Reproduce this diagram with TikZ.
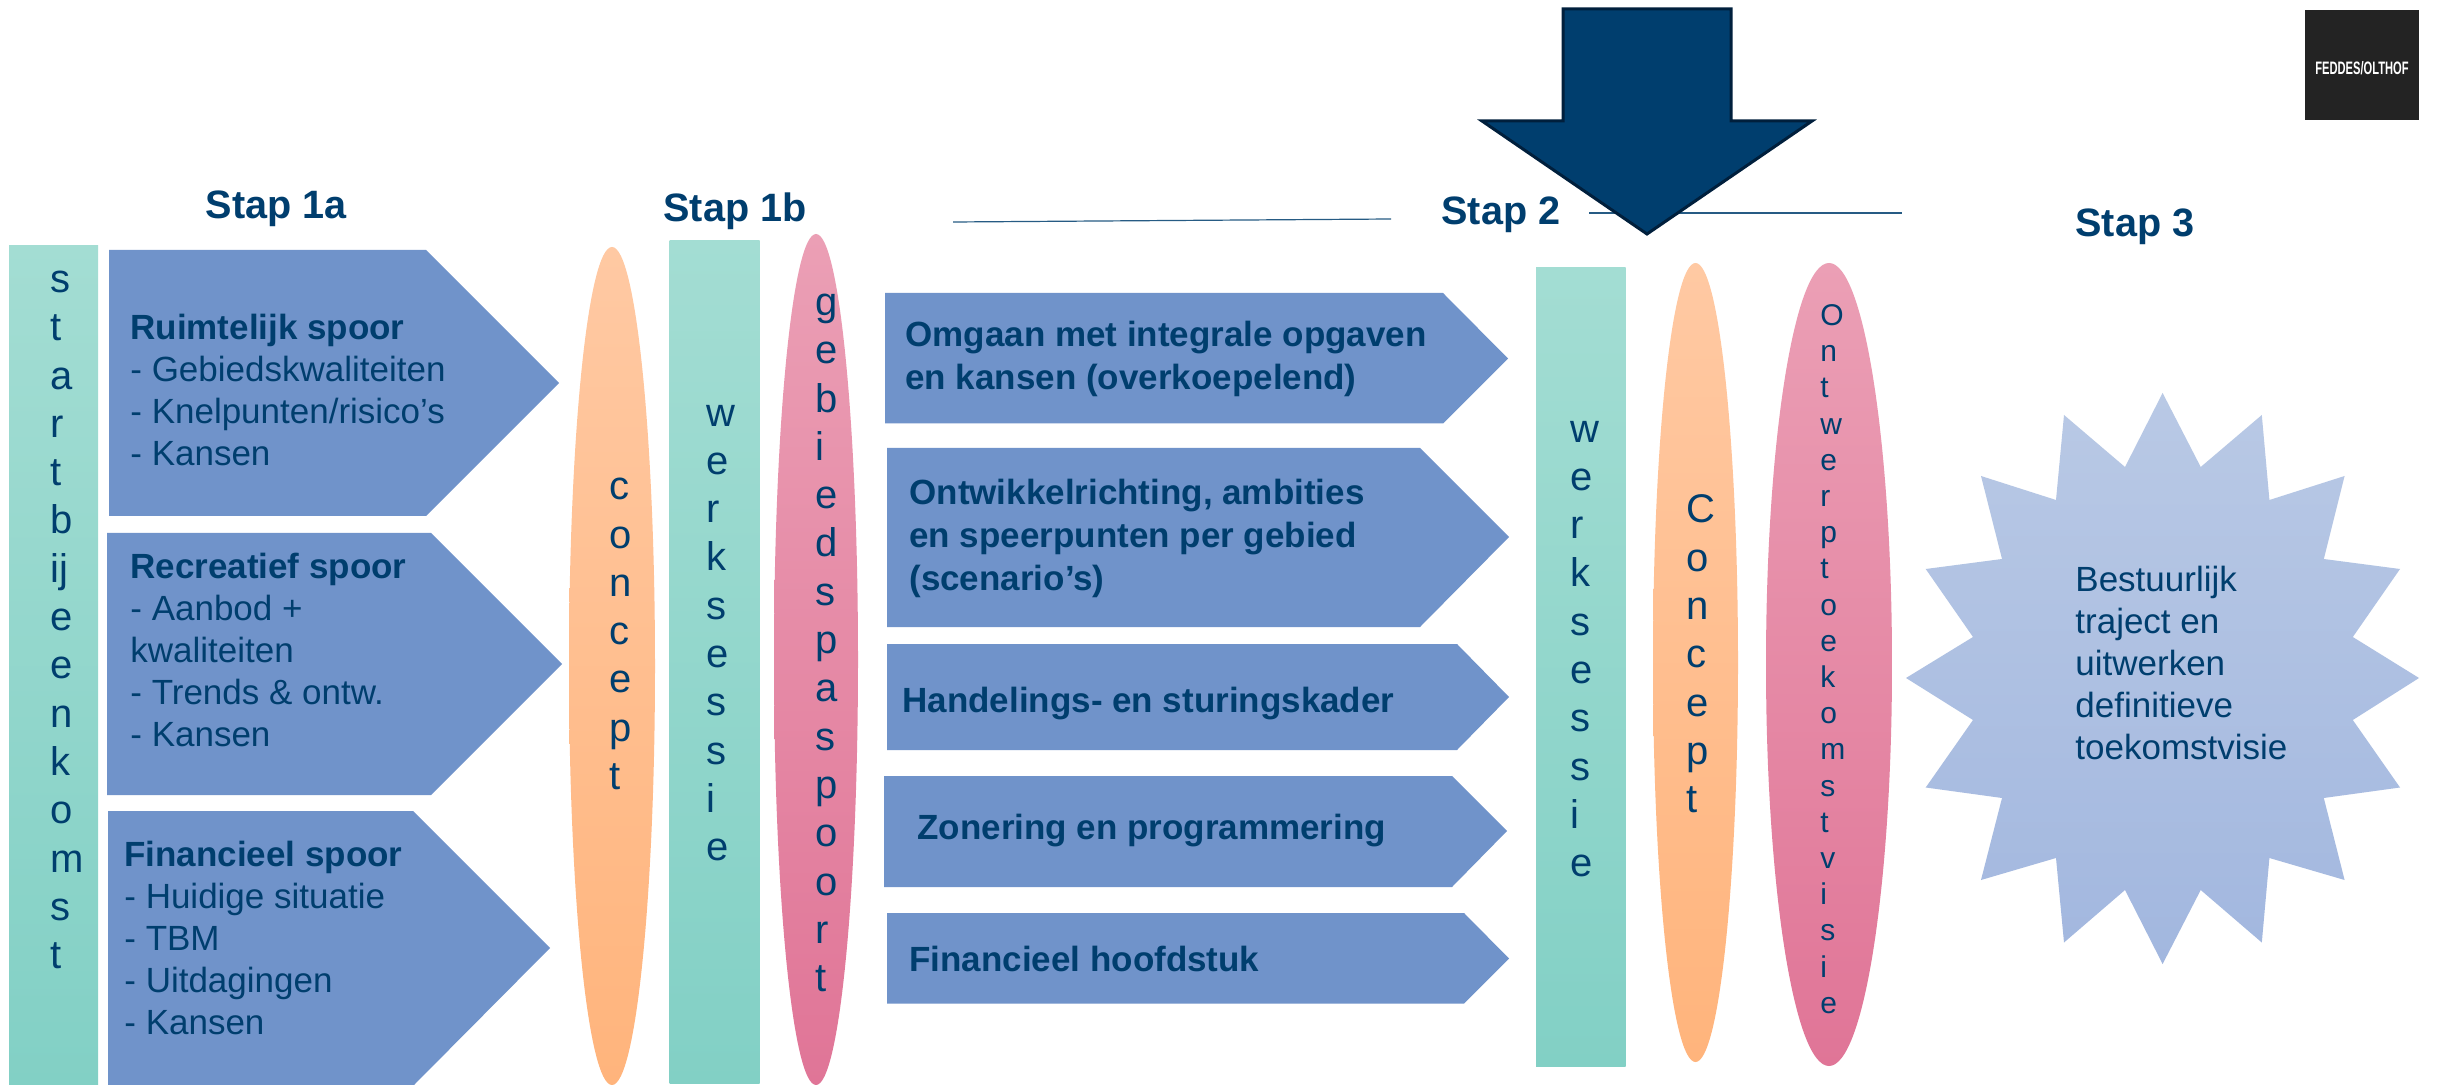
\documentclass[tikz,border=0pt]{standalone}
\usepackage{fontspec}
\setmainfont{Liberation Sans}
\usetikzlibrary{shapes.geometric}
\definecolor{navy}{HTML}{003E6E}
\definecolor{navyedge}{HTML}{001F3C}
\definecolor{arrowblue}{HTML}{7093CA}
\definecolor{logobg}{HTML}{232323}
\tikzset{
  x=0.5pt,y=-0.5pt,
  barfill/.style={rectangle,draw=none,inner sep=0pt,outer sep=0pt,top color=barA,bottom color=barB},
  orangefill/.style={ellipse,draw=none,inner sep=0pt,outer sep=0pt,top color=orA,bottom color=orB},
  pinkfill/.style={ellipse,draw=none,inner sep=0pt,outer sep=0pt,top color=piA,bottom color=piB},
  chevron/.style={fill=arrowblue,draw=none},
  steplabel/.style={anchor=west,inner sep=0pt,text=navy,font=\fontsize{19.8}{23}\selectfont\bfseries},
  stack/.style={anchor=west,inner sep=0pt,align=left,text=navy,font=\fontsize{20}{24.15}\selectfont},
  smallstack/.style={anchor=west,inner sep=0pt,align=left,text=navy,font=\fontsize{15}{18.1}\selectfont},
  spoortext/.style={anchor=west,inner sep=0pt,align=left,text=navy,font=\fontsize{17.5}{21}\selectfont},
  boldtext/.style={anchor=west,inner sep=0pt,align=left,text=navy,font=\fontsize{17.5}{21.3}\selectfont\bfseries},
  ruleline/.style={draw=navy!85!white,line width=0.6pt},
}
\definecolor{barA}{HTML}{A3DDD3}
\definecolor{barB}{HTML}{82D0C5}
\definecolor{orA}{HTML}{FFC9A3}
\definecolor{orB}{HTML}{FFB47C}
\definecolor{piA}{HTML}{EB9FB5}
\definecolor{piB}{HTML}{E07597}
\definecolor{stA}{HTML}{B9C9E5}
\definecolor{stB}{HTML}{A2B7DF}
\begin{document}
\begin{tikzpicture}
\useasboundingbox (0,0) rectangle (2437,1085);
\fill[white] (0,0) rectangle (2437,1085);

% bars
\node[barfill,minimum width=44.5pt,minimum height=419.75pt] (barstart) at (53.5,665.25) {};
\node[barfill,minimum width=45pt,minimum height=421pt] (barwerk) at (714.5,662) {};
\node[barfill,minimum width=44.75pt,minimum height=399pt] (barwerktwo) at (1580.75,667) {};

% ellipses
\node[orangefill,minimum width=43pt,minimum height=419pt] (ellconcept) at (612,666) {};
\node[pinkfill,minimum width=42pt,minimum height=425.5pt] (ellgebied) at (816,659.5) {};
\node[orangefill,minimum width=42.5pt,minimum height=399.5pt] (ellconcepttwo) at (1695.5,662.5) {};
\node[pinkfill,minimum width=63pt,minimum height=401.5pt] (ellontwerp) at (1829,664.5) {};

% left chevrons
\path[chevron] (109,250) -- (426,250) -- (559,383) -- (426,516) -- (109,516) -- cycle;
\path[chevron] (107,533) -- (431,533) -- (562,664) -- (431,795) -- (107,795) -- cycle;
\path[chevron] (108,811) -- (413,811) -- (550,948) -- (414,1085) -- (108,1085) -- cycle;

% middle chevrons
\path[chevron] (885,293) -- (1443,293) -- (1508,358.5) -- (1443,423.5) -- (885,423.5) -- cycle;
\path[chevron] (887,448) -- (1420,448) -- (1509,537) -- (1420,627) -- (887,627) -- cycle;
\path[chevron] (887,644) -- (1457,644) -- (1509,697) -- (1457,750) -- (887,750) -- cycle;
\path[chevron] (884,776) -- (1452,776) -- (1507,831) -- (1452,887) -- (884,887) -- cycle;
\path[chevron] (887,913) -- (1464,913) -- (1509,958.5) -- (1464,1003.5) -- (887,1003.5) -- cycle;

% rules and big arrow
\coordinate (ruleAa) at (953,222);
\coordinate (ruleAb) at (1391,219);
\coordinate (ruleBa) at (1589,213);
\coordinate (ruleBb) at (1902,213);
\draw[ruleline] (ruleAa) -- (ruleAb);
\draw[ruleline] (ruleBa) -- (ruleBb);
\path[fill=navy,draw=navyedge,line width=1.5pt,line join=miter]
  (1563,9) -- (1731,9) -- (1731,121) -- (1812,121) -- (1647,234) -- (1482,121) -- (1563,121) -- cycle;

% star
\path[top color=stA,bottom color=stB,draw=none]
 (2162.6,393) -- (2200.7,467) -- (2261.8,415) -- (2269.4,500) -- (2344.6,476) -- (2323.8,559)
 -- (2400,569) -- (2352.8,637) -- (2419,678) -- (2352.8,720) -- (2400,787.5) -- (2323.8,798)
 -- (2344.6,880) -- (2269.4,858) -- (2261.8,942.5) -- (2200.7,890) -- (2162.6,964) -- (2125,890)
 -- (2064,942.5) -- (2056,858) -- (1981,880) -- (2002,798) -- (1925.7,787.5) -- (1973,720)
 -- (1906,678) -- (1973,637) -- (1925.7,569) -- (2002,559) -- (1981,476) -- (2056,500)
 -- (2064,415) -- (2125,467) -- cycle;

% logo
\node[fill=logobg,inner sep=0pt,minimum width=57pt,minimum height=55pt] (logo) at (2362,65) {};
\node[inner sep=0pt,text=white] (logotext) at (2362,68)
  {\scalebox{0.62}[1]{\fontsize{9}{10}\selectfont\bfseries FEDDES/OLTHOF}};

% step labels
\node[steplabel] (stapa) at (205.5,209) {Stap 1a};
\node[steplabel] (stapb) at (663,211) {Stap 1b};
\node[steplabel] (stapc) at (1441,215) {Stap 2};
\node[steplabel] (stapd) at (2075,227) {Stap 3};

% vertical stacks
\node[stack] (tstart) at (50,620) {s\\t\\a\\r\\t\\b\\ij\\e\\e\\n\\k\\o\\m\\s\\t};
\node[stack] (tconcept) at (609,634) {c\\o\\n\\c\\e\\p\\t};
\node[stack] (twerk) at (706,633) {w\\e\\r\\k\\s\\e\\s\\s\\i\\e};
\node[stack] (tgebied) at (815,643) {g\\e\\b\\i\\e\\d\\s\\p\\a\\s\\p\\o\\o\\r\\t};
\node[stack] (twerktwo) at (1570,649) {w\\e\\r\\k\\s\\e\\s\\s\\i\\e};
\node[stack] (tconcepttwo) at (1686,654) {C\\o\\n\\c\\e\\p\\t};
\node[smallstack] (tontwerp) at (1820,659) {O\\n\\t\\w\\e\\r\\p\\t\\o\\e\\k\\o\\m\\s\\t\\v\\i\\s\\i\\e};

% spoor texts
\node[spoortext] (truimte) at (130,389.5) {\textbf{Ruimtelijk spoor}\\- Gebiedskwaliteiten\\- Knelpunten/risico’s\\- Kansen};
\node[spoortext] (trecre) at (130,649.5) {\textbf{Recreatief spoor}\\- Aanbod +\\kwaliteiten\\- Trends \& ontw.\\- Kansen};
\node[spoortext] (tfinan) at (124,938) {\textbf{Financieel spoor}\\- Huidige situatie\\- TBM\\- Uitdagingen\\- Kansen};

% middle texts
\node[boldtext] (tomgaan) at (905,359) {Omgaan met integrale opgaven\\en kansen (overkoepelend)};
\node[boldtext] (tontw) at (909,538.5) {Ontwikkelrichting, ambities\\en speerpunten per gebied\\(scenario’s)};
\node[boldtext] (thand) at (902,703.5) {Handelings- en sturingskader};
\node[boldtext] (tzon) at (917,831) {Zonering en programmering};
\node[boldtext] (tfinh) at (909,958.5) {Financieel hoofdstuk};

% star text
\node[spoortext] (tbest) at (2075,663) {Bestuurlijk\\traject en\\uitwerken\\definitieve\\toekomstvisie};
\end{tikzpicture}
\end{document}
